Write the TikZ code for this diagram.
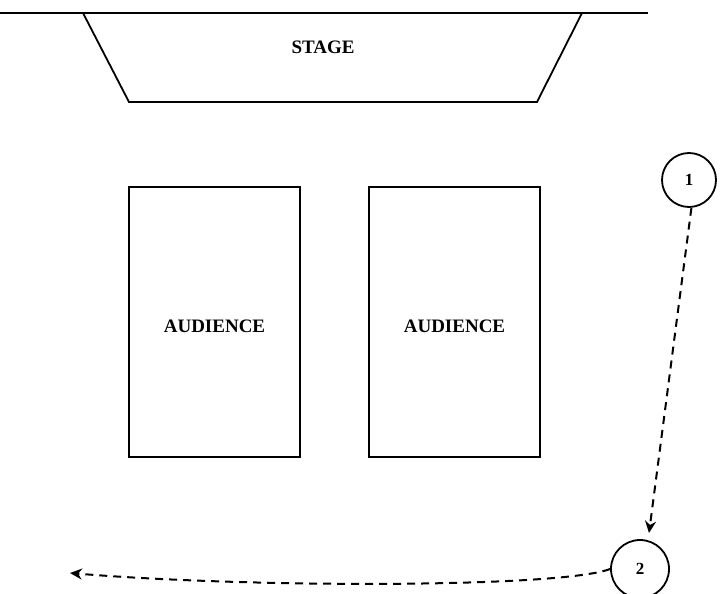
\documentclass[tikz,border=0pt]{standalone}
\usepackage{fontspec}
\setmainfont{Liberation Serif}
\usetikzlibrary{arrows.meta}
\begin{document}
\begin{tikzpicture}[x=1pt,y=-1pt,
  shape line/.style={draw=black,line width=1.8pt},
  lbl/.style={font=\bfseries\fontsize{19}{22}\selectfont},
  stop/.style={circle,draw=black,line width=1.8pt,minimum size=54pt,inner sep=0pt,fill=white,font=\bfseries\fontsize{17}{19}\selectfont},
  route/.style={draw=black,line width=2pt,dash pattern=on 8pt off 6pt,-{Stealth[length=12pt,width=11pt]}}]
\useasboundingbox[fill=white] (0,0) rectangle (721,594);
% stage
\coordinate (lineL) at (0,13);
\coordinate (lineR) at (648,13);
\draw[shape line] (lineL) -- (lineR);
\draw[shape line] (83,13) -- (129,102) -- (537,102) -- (582,13);
\node[lbl] (stage) at (323,47) {STAGE};
% audience
\node[shape line,minimum width=171pt,minimum height=270pt,inner sep=0pt] (aud1) at (214.5,322) {};
\node[lbl] at ([yshift=-4pt]aud1.center) {AUDIENCE};
\node[shape line,minimum width=171pt,minimum height=270pt,inner sep=0pt] (aud2) at (454.5,322) {};
\node[lbl] at ([yshift=-4pt]aud2.center) {AUDIENCE};
% stops
\node[stop] (s1) at (689,180) {1};
\node[stop,minimum size=58pt] (s2) at (640,569) {2};
\coordinate (end) at (70,573);
\draw[route] (s1.-85) -- (649,533);
\draw[route] (s2.west) .. controls (560,588) and (250,588) .. (end);
\end{tikzpicture}
\end{document}
